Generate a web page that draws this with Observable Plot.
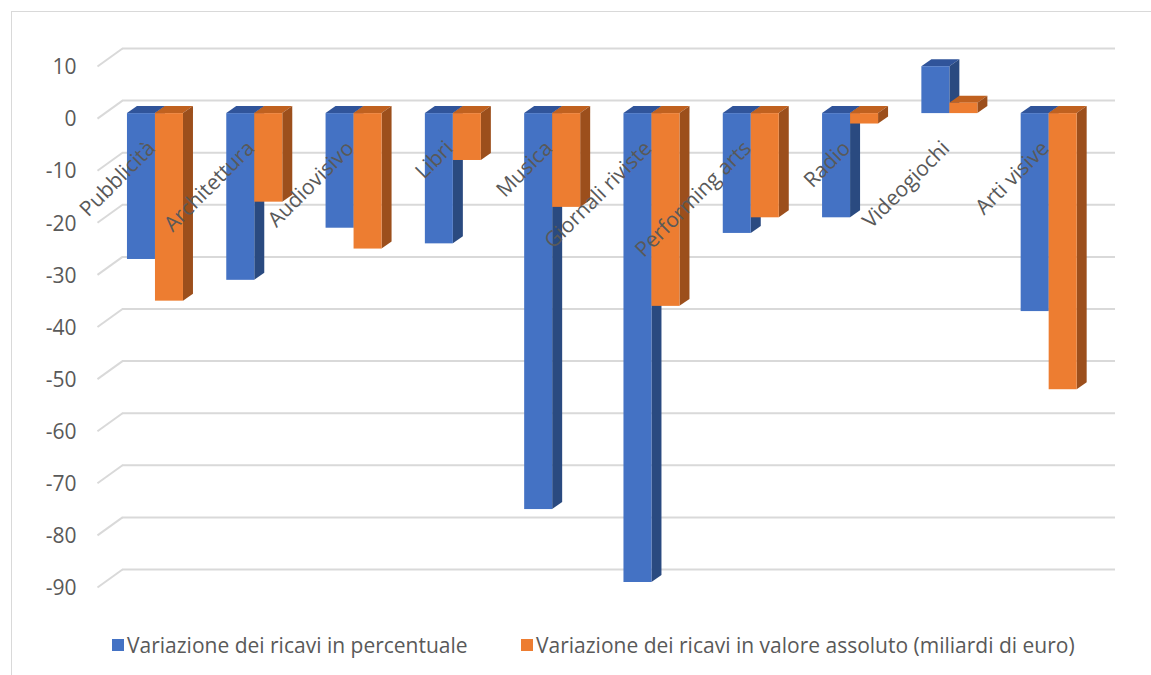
<!DOCTYPE html>
<html>
<head>
<meta charset="utf-8">
<script src="https://cdn.jsdelivr.net/npm/d3@7"></script>
<script src="https://cdn.jsdelivr.net/npm/@observablehq/plot@0.6"></script>
<style>
  html, body { margin: 0; padding: 0; background: #fff; }
  #wrap { position: relative; width: 1151px; height: 675px; overflow: hidden; font-family: "Open Sans", sans-serif; }
  #frame { position: absolute; left: 11px; top: 11px; width: 1200px; height: 700px; border-left: 1px solid #d9d9d9; border-top: 1px solid #d9d9d9; }
  #chart { position: absolute; left: 0; top: 0; }
  .leg { position: absolute; top: 631px; display: flex; align-items: center; font-size: 21px; color: #595959; white-space: nowrap; }
  .sw { width: 12px; height: 12px; margin-right: 3px; }
</style>
</head>
<body>
<div id="wrap">
  <div id="frame"></div>
  <div id="chart"></div>
  <div class="leg" style="left:112px"><div class="sw" style="background:#4472C4"></div><span id="l0"></span></div>
  <div class="leg" style="left:521px"><div class="sw" style="background:#ED7D31"></div><span id="l1"></span></div>
</div>
<script>
const categories = ["Pubblicità","Architettura","Audiovisivo","Libri","Musica","Giornali riviste","Performing arts","Radio","Videogiochi","Arti visive"];
const percentuale = [-28,-32,-22,-25,-76,-90,-23,-20,9,-38];
const assoluto = [-36,-17,-26,-9,-18,-37,-20,-2,2,-53];
const seriesNames = ["Variazione dei ricavi in percentuale","Variazione dei ricavi in valore assoluto (miliardi di euro)"];
const yTicks = [10,0,-10,-20,-30,-40,-50,-60,-70,-80,-90];

const frontColors = ["#4472C4","#ED7D31"];
const topColors = ["#30549A","#C0611F"];
const sideColors = ["#2A4A80","#9C4F1C"];

// geometry (in data units of the scales)
const barW = 0.282, barOff = 0.05;
const depthX = 0.1007, depthY = 1.34;   // bar extrusion (≈10px, 7px)
const floorX = 0.252, floorY = 3.455;  // wall depth (≈25px, 18px)
const frontDy = 13;

const rows = [];
[percentuale, assoluto].forEach((vals, s) => {
  vals.forEach((v, i) => {
    const x1 = i + barOff + s * barW;
    rows.push({id: `${s}-${i}`, s, i, cat: categories[i], v, x1, x2: x1 + barW,
               top: Math.max(v, 0), bottom: Math.min(v, 0)});
  });
});

function topFace(r) {
  const {x1, x2, top} = r, d = depthX, e = depthY;
  return [
    {id: r.id, s: r.s, x: x1, y1: top, y2: top},
    {id: r.id, s: r.s, x: x1 + d, y1: top, y2: top + e},
    {id: r.id, s: r.s, x: x2, y1: top, y2: top + e},
    {id: r.id, s: r.s, x: x2 + d, y1: top + e, y2: top + e}
  ];
}
function sideFace(r) {
  const {x2, top, bottom} = r, d = depthX, e = depthY;
  return [
    {id: r.id, s: r.s, x: x2, y1: bottom, y2: top},
    {id: r.id, s: r.s, x: x2 + d, y1: bottom + e, y2: top + e}
  ];
}

const marks = [
  Plot.ruleY(yTicks, {x1: 0, x2: 10, y: d => d, stroke: "#d9d9d9", strokeWidth: 2}),
  Plot.link(yTicks, {x1: -floorX, y1: d => d - floorY, x2: 0, y2: d => d, stroke: "#d9d9d9", strokeWidth: 2}),
  Plot.text(yTicks, {x: -floorX, y: d => d - floorY, text: d => String(d), textAnchor: "end", dx: -21, dy: 1, fontSize: 21, fill: "#595959", fontFamily: "Open Sans"})
];
for (const s of [0, 1]) {
  const rs = rows.filter(r => r.s === s);
  marks.push(Plot.areaY(rs.flatMap(topFace), {x: "x", y1: "y1", y2: "y2", z: "id", fill: topColors[s], dy: frontDy}));
  marks.push(Plot.areaY(rs.flatMap(sideFace), {x: "x", y1: "y1", y2: "y2", z: "id", fill: sideColors[s], dy: frontDy}));
}
for (const s of [0, 1]) {
  const rs = rows.filter(r => r.s === s);
  marks.push(Plot.rect(rs, {x1: "x1", x2: "x2", y1: 0, y2: "v", fill: frontColors[s], dy: frontDy}));
}
marks.push(Plot.text(categories, {
  x: (d, i) => i + barOff + barW, y: () => 0, text: d => d,
  rotate: -45, textAnchor: "end", lineAnchor: "bottom", dy: frontDy + 36, dx: 1,
  fontSize: 21, fill: "#595959", fontFamily: "Open Sans"
}));

const chart = Plot.plot({
  width: 1151,
  height: 620,
  marginLeft: 122,
  marginRight: 36,
  marginTop: 48,
  marginBottom: 51,
  x: {type: "linear", domain: [0, 10], axis: null},
  y: {type: "linear", domain: [-90, 10], axis: null},
  style: {background: "transparent", overflow: "visible"},
  marks
});
document.getElementById("chart").appendChild(chart);
document.getElementById("l0").textContent = seriesNames[0];
document.getElementById("l1").textContent = seriesNames[1];
</script>
</body>
</html>
